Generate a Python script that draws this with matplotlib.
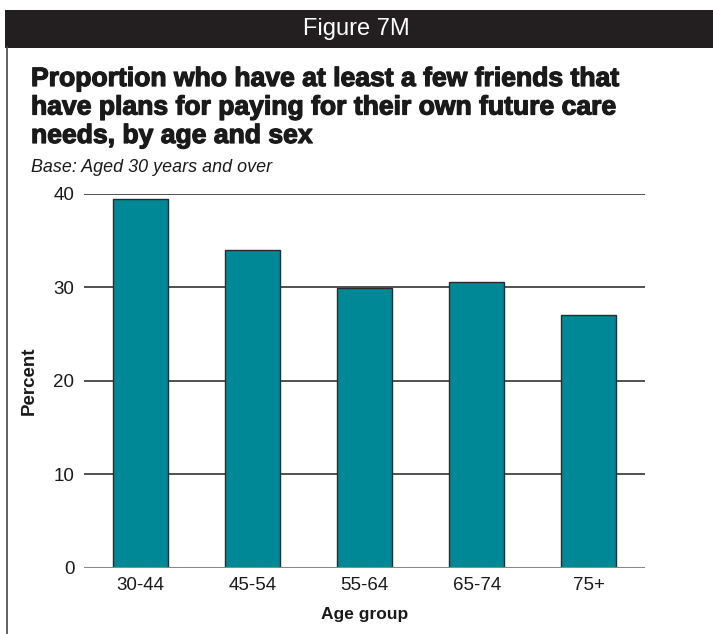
import matplotlib.pyplot as plt
import matplotlib.patheffects as pe
from matplotlib.patches import Rectangle
from matplotlib.lines import Line2D

# data
age_groups = ['30-44', '45-54', '55-64', '65-74', '75+']
percent = [39.5, 34.0, 29.9, 30.6, 27.0]
y_ticks = [0, 10, 20, 30, 40]

W, H = 713, 634
fig = plt.figure(figsize=(W / 100, H / 100), dpi=100)
fig.patch.set_facecolor('white')
plt.rcParams['font.family'] = ['Liberation Sans', 'DejaVu Sans']

# header bar
fig.patches.append(Rectangle((5 / W, 1 - 47.5 / H), 1 - 5 / W, 38 / H,
                             transform=fig.transFigure, facecolor='#231f20',
                             edgecolor='none'))
fig.text(356 / W, 1 - 29 / H, 'Figure 7M', color='white', fontsize=17,
         ha='center', va='center')

# left frame line
fig.lines.append(Line2D([6.5 / W, 6.5 / W], [0, 1 - 47 / H], transform=fig.transFigure,
                        color='#444444', linewidth=1.2))

# titles (stroke thickens the bold face a little)
heavy = [pe.Stroke(linewidth=0.9, foreground='#1a1a1a'), pe.Normal()]
title_lines = ['Proportion who have at least a few friends that',
               'have plans for paying for their own future care',
               'needs, by age and sex']
for i, line in enumerate(title_lines):
    fig.text(31 / W, 1 - (86 + 28.5 * i) / H, line, fontsize=19.1, fontweight='bold',
             color='#1a1a1a', ha='left', va='baseline', path_effects=heavy)
fig.text(31 / W, 1 - 172 / H, 'Base: Aged 30 years and over', fontsize=12.9,
         style='italic', color='#1a1a1a', ha='left', va='baseline')

# plot area
ax = fig.add_axes([84 / W, (H - 567.5) / H, 561 / W, 373.5 / H])
x = range(len(age_groups))
ax.bar(x, percent, width=0.49, color='#008896', edgecolor='#2b2b2b',
       linewidth=1.0, zorder=3)

ax.set_xlim(-0.5, len(age_groups) - 0.5)
ax.set_ylim(0, 40)
ax.set_yticks(y_ticks)
ax.set_xticks(list(x))
ax.set_xticklabels(age_groups)

for t in y_ticks[1:]:
    ax.axhline(t, color='#222222', linewidth=1.1, zorder=1)
ax.axhline(0, color='#8a8a8a', linewidth=1.5, zorder=4)

for s in ax.spines.values():
    s.set_visible(False)
ax.tick_params(axis='both', length=0, labelsize=13.5, colors='#1a1a1a')
ax.tick_params(axis='y', pad=7)
ax.tick_params(axis='x', pad=7)

ax.set_ylabel('Percent', fontsize=13.5, fontweight='bold', color='#1a1a1a', labelpad=11)
ax.set_xlabel('Age group', fontsize=12.5, fontweight='bold', color='#1a1a1a', labelpad=9)

fig.savefig('out.png', dpi=100)
